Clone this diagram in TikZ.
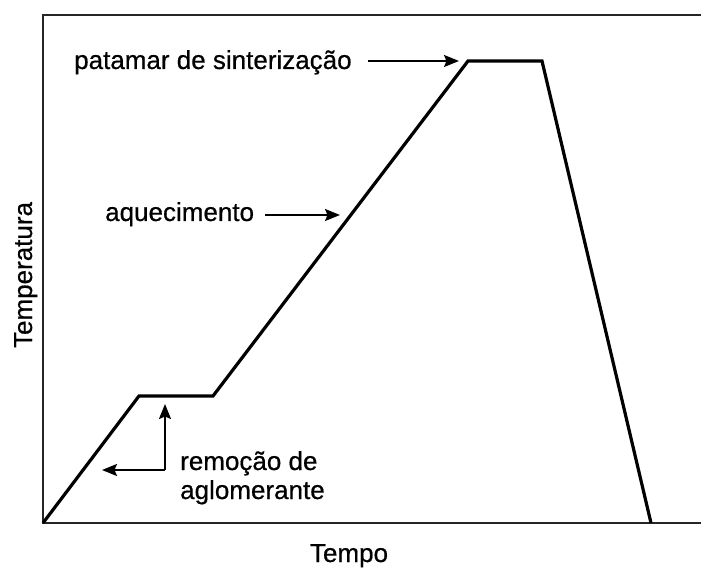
\documentclass[tikz,border=0pt]{standalone}
\usepackage{fontspec}
\setmainfont{Liberation Sans}
\newfontfamily\lblfont{Liberation Sans}[FakeBold=0.6]
\usetikzlibrary{arrows.meta}
\begin{document}
\begin{tikzpicture}[x=1pt,y=-1pt,
  lbl/.style={font=\lblfont\fontsize{26}{30}\selectfont, inner sep=0pt},
  arr/.style={line width=2pt, -{Stealth[length=15pt,width=12pt,inset=2.5pt]}},
  axis/.style={line width=2.2pt, draw=black!85},
  curve/.style={line width=3.2pt, line join=miter}]
\useasboundingbox (0,0) rectangle (701,569);
% frame
\coordinate (tr) at (701,15);
\coordinate (tl) at (43,15);
\coordinate (bl) at (43,523);
\coordinate (br) at (701,523);
\draw[axis] (tr) -- (tl) -- (bl) -- (br);
% curve
\coordinate (p0) at (43,523);
\coordinate (p1) at (139,396);
\coordinate (p2) at (213,396);
\coordinate (p3) at (468,61);
\coordinate (p4) at (542,61);
\coordinate (p5) at (651,523);
\draw[curve] (p0) -- (p1) -- (p2) -- (p3) -- (p4) -- (p5);
% labels
\node[lbl, anchor=base west] (pat) at (74,69) {patamar de sinterização};
\node[lbl, anchor=base west] (aq) at (105,221) {aquecimento};
\node[lbl, anchor=base west] (rem) at (180,470) {remoção de};
\node[lbl, anchor=base west] (agl) at (180,499) {aglomerante};
\node[lbl, anchor=base] (tempo) at (349,562) {Tempo};
\node[lbl, anchor=base, rotate=90] (temp) at (32,275) {Temperatura};
% arrows
\coordinate (pats) at (368,61);
\coordinate (pate) at (459,61);
\draw[arr] (pats) -- (pate);
\coordinate (aqs) at (265,215);
\coordinate (aqe) at (340,215);
\draw[arr] (aqs) -- (aqe);
\coordinate (rc) at (165,470);
\coordinate (rup) at (165,404);
\coordinate (rleft) at (102,470);
\draw[arr] (rc) -- (rup);
\draw[arr] (rc) -- (rleft);
\end{tikzpicture}
\end{document}
